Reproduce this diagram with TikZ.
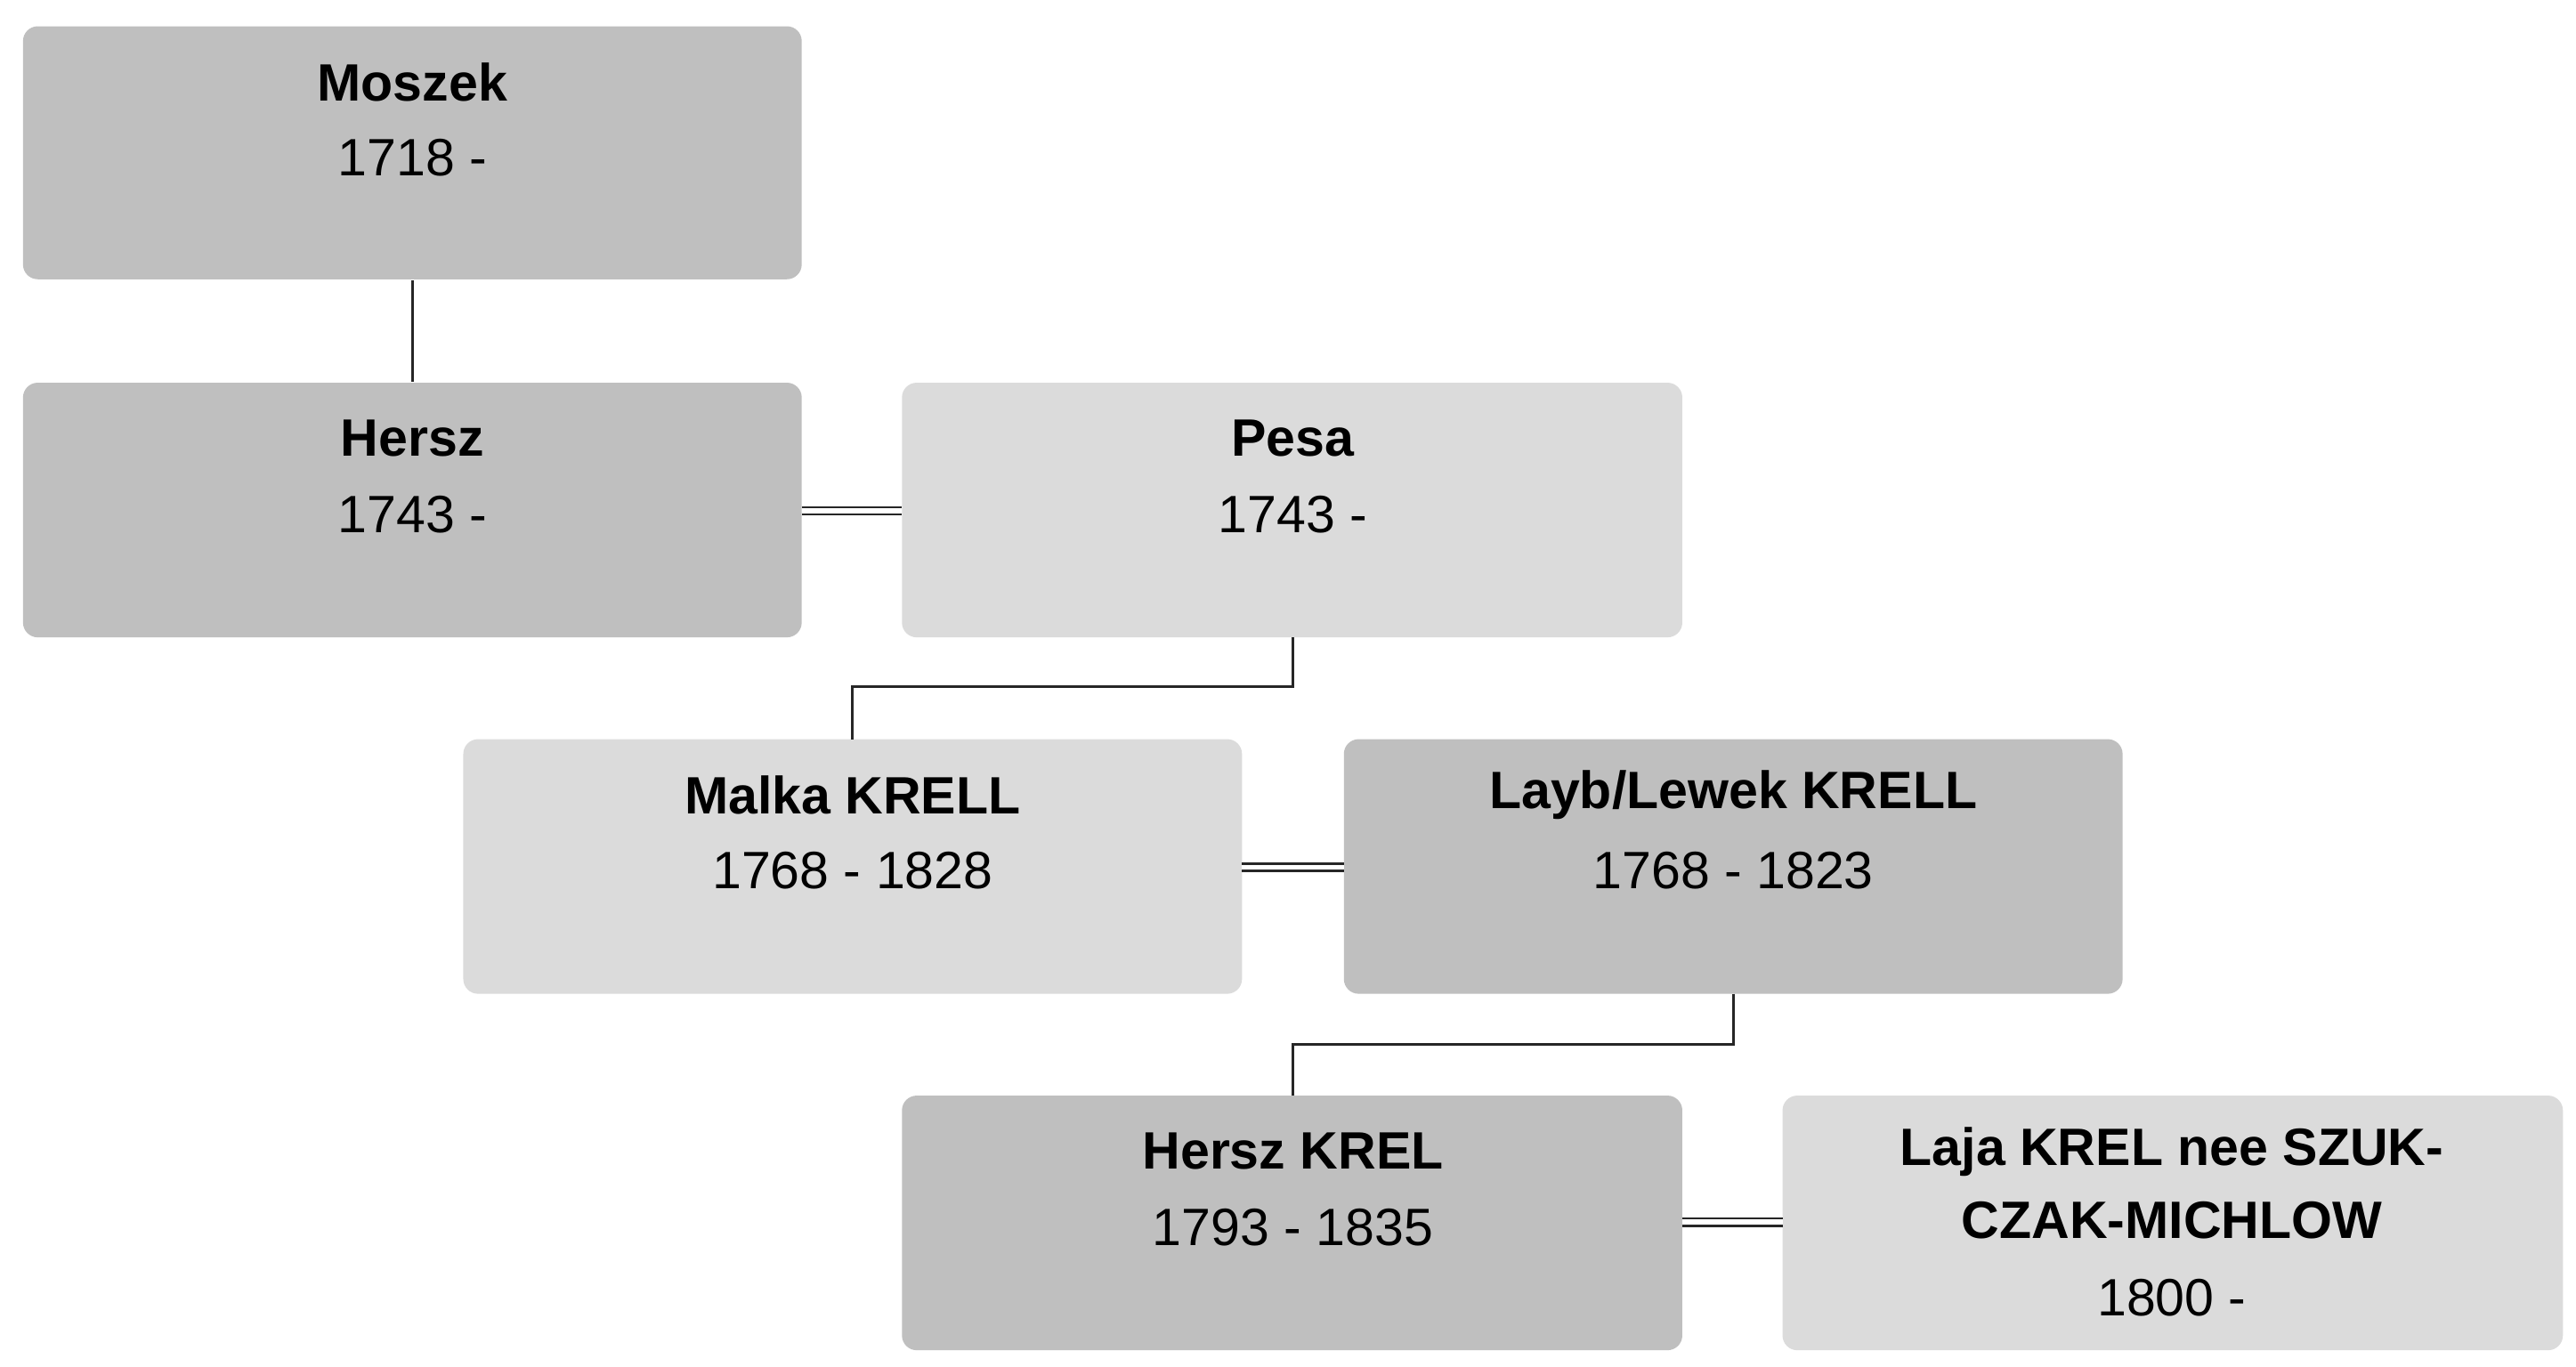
\documentclass[tikz,border=0pt]{standalone}
\usepackage{fontspec}
\setmainfont{Liberation Sans}
\begin{document}
\begin{tikzpicture}[x=1pt,y=-1pt,
  box/.style={rounded corners=9pt,draw=none},
  dark/.style={box,fill=black!25},
  light/.style={box,fill=black!14},
  nm/.style={font=\fontsize{32}{38}\selectfont\bfseries,anchor=center},
  yr/.style={font=\fontsize{32}{38}\selectfont,anchor=center},
  ln/.style={line width=1.6pt,black!85},
  dbl/.style={line width=1.4pt,black!85,double=white,double distance=3pt}]
\useasboundingbox (0,0) rectangle (1568,832);
\fill[white] (0,0) rectangle (1568,832);
% boxes
\filldraw[dark] (14,16) rectangle (488,170); \coordinate (mo) at (251,93);
\filldraw[dark] (14,233) rectangle (488,388);
\filldraw[light] (549,233) rectangle (1024,388);
\filldraw[light] (282,450) rectangle (756,605);
\filldraw[dark] (818,450) rectangle (1292,605);
\filldraw[dark] (549,667) rectangle (1024,822);
\filldraw[light] (1085,667) rectangle (1560,822);
% named anchor nodes
\node[inner sep=0] (mot) at (251,170) {}; \node[inner sep=0] (het) at (251,233) {};
\node[nm] at (251,50) {Moszek}; \node[yr] at (251,96) {1718 -};
\node[nm] at (251,267) {Hersz}; \node[yr] at (251,313) {1743 -};
\node[nm] at (787,267) {Pesa}; \node[yr] at (787,313) {1743 -};
\node[nm] at (519,484) {Malka KRELL}; \node[yr] at (519,530) {1768 - 1828};
\node[nm] at (1055,484) {Layb/Lewek KRELL}; \node[yr] at (1055,530) {1768 - 1823};
\node[nm] at (787,701) {Hersz KREL}; \node[yr] at (787,747) {1793 - 1835};
\node[nm] at (1322,701) {Laja KREL nee SZUK-}; \node[nm] at (1322,743) {CZAK-MICHLOW};
\node[yr] at (1322,790) {1800 -};
% connector endpoints
\coordinate (a1) at (488,311); \coordinate (a2) at (549,311);
\coordinate (b1) at (756,528); \coordinate (b2) at (818,528);
\coordinate (c1) at (1024,744); \coordinate (c2) at (1085,744);
\coordinate (pb) at (787,388); \coordinate (mt) at (519,450);
\coordinate (lb) at (1055,605); \coordinate (ht) at (787,667);
\draw[ln] (mot) -- (het);
\draw[dbl] (a1) -- (a2);
\draw[dbl] (b1) -- (b2);
\draw[dbl] (c1) -- (c2);
\draw[ln] (pb) -- ++(0,30) -| (mt);
\draw[ln] (lb) -- ++(0,31) -| (ht);
\end{tikzpicture}
\end{document}
